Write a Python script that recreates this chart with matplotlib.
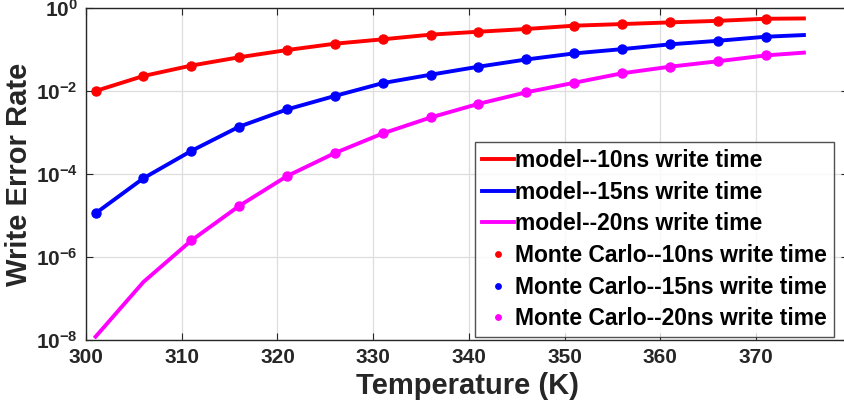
import numpy as np
import matplotlib
matplotlib.use('Agg')
import matplotlib.pyplot as plt
from matplotlib.ticker import FixedLocator, FuncFormatter

plt.rcParams['font.family'] = ['Liberation Sans', 'DejaVu Sans']
plt.rcParams['font.weight'] = 'bold'
plt.rcParams['mathtext.fontset'] = 'custom'
plt.rcParams['mathtext.bf'] = 'Liberation Sans:bold'
plt.rcParams['mathtext.rm'] = 'Liberation Sans:bold'

# model curves (temperature in K)
t_model = [301, 306, 311, 316, 321, 326, 331, 336, 341, 346, 351, 356, 361, 366, 371, 375]
model_10 = [1.0e-2, 2.3e-2, 4.1e-2, 6.5e-2, 9.7e-2, 0.138, 0.176, 0.228, 0.268, 0.312,
            0.375, 0.41, 0.45, 0.49, 0.55, 0.56]
model_15 = [1.13e-5, 7.9e-5, 3.6e-4, 1.38e-3, 3.6e-3, 7.6e-3, 1.55e-2, 2.47e-2, 3.85e-2,
            5.75e-2, 8.05e-2, 0.102, 0.133, 0.162, 0.203, 0.223]
model_20 = [1.2e-8, 2.5e-7, 2.5e-6, 1.7e-5, 8.9e-5, 3.2e-4, 9.5e-4, 2.3e-3, 4.9e-3,
            9.3e-3, 1.58e-2, 2.67e-2, 3.85e-2, 5.2e-2, 7.2e-2, 8.4e-2]

# Monte Carlo points
t_mc = [301, 306, 311, 316, 321, 326, 331, 336, 341, 346, 351, 356, 361, 366, 371]
mc_10 = model_10[:15]
mc_15 = model_15[:15]
t_mc20 = t_mc[2:]
mc_20 = model_20[2:15]

yticks = [1e-8, 1e-6, 1e-4, 1e-2, 1e0]
xticks = [300, 310, 320, 330, 340, 350, 360, 370]

W, H = 844, 412
fig = plt.figure(figsize=(W / 100, H / 100), dpi=100)
ax_w = 762
ax = fig.add_axes([86 / W, 72 / H, ax_w / W, 332 / H])

red, blue, mag = '#ff0000', '#0000ff', '#ff00ff'
lw = 2.8
ax.plot(t_model, model_10, '-', color=red, lw=lw, label='model--10ns write time', zorder=3)
ax.plot(t_model, model_15, '-', color=blue, lw=lw, label='model--15ns write time', zorder=3)
ax.plot(t_model, model_20, '-', color=mag, lw=lw, label='model--20ns write time', zorder=3)
ax.plot(t_mc, mc_10, 'o', color=red, ms=6.5, label='Monte Carlo--10ns write time', zorder=4)
ax.plot(t_mc, mc_15, 'o', color=blue, ms=6.5, label='Monte Carlo--15ns write time', zorder=4)
ax.plot(t_mc20, mc_20, 'o', color=mag, ms=6.5, label='Monte Carlo--20ns write time', zorder=4)

ax.set_yscale('log')
ax.set_ylim(1e-8, 1)
ax.set_xlim(300, 300 + ax_w / 9.572)
ax.yaxis.set_major_locator(FixedLocator(yticks))
ax.yaxis.set_minor_locator(FixedLocator([]))
ax.yaxis.set_major_formatter(FuncFormatter(lambda v, p: r'$\mathbf{10^{%d}}$' % round(np.log10(v))))
ax.set_xticks(xticks)

ax.grid(True, color='#dedede', lw=0.9)
ax.set_axisbelow(True)
for s in ax.spines.values():
    s.set_color('#262626')
    s.set_linewidth(1.0)
ax.tick_params(direction='in', top=True, right=True, length=5, width=0.8, color='#262626',
               labelsize=15, labelcolor='#262626', pad=6)

ax.set_xlabel('Temperature (K)', fontsize=21, fontweight='bold', color='#262626', labelpad=3)
ax.set_ylabel('Write Error Rate', fontsize=21, fontweight='bold', color='#262626', labelpad=2)

leg = ax.legend(loc='upper left', bbox_to_anchor=(475 / W, 1 - 142 / H),
                bbox_transform=fig.transFigure, fontsize=16.5, frameon=True, fancybox=False,
                edgecolor='#262626', handlelength=1.4, handletextpad=0.05, markerscale=0.6,
                labelspacing=0.38, borderpad=0.3, borderaxespad=0)
leg.get_frame().set_linewidth(1.0)
for txt in leg.get_texts():
    txt.set_fontweight('bold')

plt.savefig('out.png', dpi=100)
